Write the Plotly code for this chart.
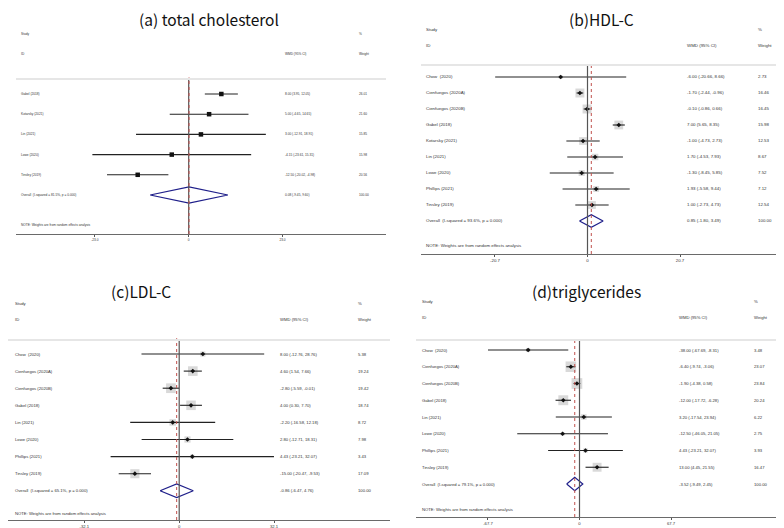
import plotly.graph_objects as go

W, H = 784, 528

# ---------------- data ----------------
# (a) total cholesterol
a_studies = ["Gabel (2018)", "Kotarsky (2021)", "Lin (2021)", "Lowe (2020)", "Tinsley (2019)"]
a_wmd = [8.00, 5.00, 3.00, -4.15, -12.50]
a_lo = [3.95, -4.65, -12.91, -23.61, -20.02]
a_hi = [12.05, 14.65, 18.91, 15.31, -4.98]
a_weight = [26.01, 21.60, 15.85, 15.98, 20.56]
a_overall = [0.08, -9.45, 9.60]
a_overall_label = "Overall  (I-squared = 81.5%, p = 0.000)"
a_ticks = [-23.0, 0, 23.0]
a_ticktext = ["-23.0", "0", "23.0"]

# (b) HDL-C
b_studies = ["Chow  (2020)", "Cienfuegos (2020A)", "Cienfuegos (2020B)", "Gabel (2018)",
             "Kotarsky (2021)", "Lin (2021)", "Lowe (2020)", "Phillips (2021)", "Tinsley (2019)"]
b_wmd = [-6.00, -1.70, -0.10, 7.00, -1.00, 1.70, -1.30, 1.93, 1.00]
b_lo = [-20.66, -2.44, -0.86, 5.65, -4.73, -4.53, -8.45, -5.58, -2.73]
b_hi = [8.66, -0.96, 0.66, 8.35, 2.73, 7.93, 5.85, 9.44, 4.73]
b_weight = [2.73, 16.46, 16.45, 15.98, 12.53, 8.67, 7.52, 7.12, 12.54]
b_overall = [0.85, -1.80, 3.49]
b_overall_label = "Overall  (I-squared = 93.6%, p = 0.000)"
b_ticks = [-20.7, 0, 20.7]
b_ticktext = ["-20.7", "0", "20.7"]

# (c) LDL-C
c_studies = ["Chow  (2020)", "Cienfuegos (2020A)", "Cienfuegos (2020B)", "Gabel (2018)",
             "Lin (2021)", "Lowe (2020)", "Phillips (2021)", "Tinsley (2019)"]
c_wmd = [8.00, 4.60, -2.80, 4.00, -2.20, 2.80, 4.43, -15.00]
c_lo = [-12.76, 1.54, -5.59, 0.30, -16.58, -12.71, -23.21, -20.47]
c_hi = [28.76, 7.66, -0.01, 7.70, 12.18, 18.31, 32.07, -9.53]
c_weight = [5.38, 19.24, 19.42, 18.74, 8.72, 7.98, 3.43, 17.09]
c_overall = [-0.86, -6.47, 4.76]
c_overall_label = "Overall  (I-squared = 65.1%, p = 0.000)"
c_ticks = [-32.1, 0, 32.1]
c_ticktext = ["-32.1", "0", "32.1"]

# (d) triglycerides
d_studies = ["Chow  (2020)", "Cienfuegos (2020A)", "Cienfuegos (2020B)", "Gabel (2018)",
             "Lin (2021)", "Lowe (2020)", "Phillips (2021)", "Tinsley (2019)"]
d_wmd = [-38.00, -6.40, -1.90, -12.00, 3.20, -12.50, 4.43, 13.00]
d_lo = [-67.69, -9.74, -4.38, -17.72, -17.54, -46.05, -23.21, 4.45]
d_hi = [-8.31, -3.06, 0.58, -6.28, 23.94, 21.05, 32.07, 21.55]
d_weight = [3.48, 23.07, 23.84, 20.24, 6.22, 2.75, 3.93, 16.47]
d_overall = [-3.52, -9.49, 2.45]
d_overall_label = "Overall  (I-squared = 79.1%, p = 0.000)"
d_ticks = [-67.7, 0, 67.7]
d_ticktext = ["-67.7", "0", "67.7"]

# ---------------- layout config (pixels) ----------------
panels = [
    dict(title="(a) total cholesterol", title_xy=(201, 11), studies=a_studies, wmd=a_wmd, lo=a_lo, hi=a_hi,
         weight=a_weight, overall=a_overall, overall_label=a_overall_label, ticks=a_ticks, ticktext=a_ticktext,
         xdom=(8, 378), zero=180.7, scale=4.08, row0=86, step=20.2, top=71, bottom=226,
         study_y=26, id_y=46, note_y=217, label_x=11, wmd_x=275, wt_x=349, fs=3.2, boxes=False),
    dict(title="(b)HDL-C", title_xy=(593, 11), studies=b_studies, wmd=b_wmd, lo=b_lo, hi=b_hi,
         weight=b_weight, overall=b_overall, overall_label=b_overall_label, ticks=b_ticks, ticktext=b_ticktext,
         xdom=(413, 784), zero=579.5, scale=4.469, row0=69, step=16, top=57, bottom=246,
         study_y=21, id_y=37, note_y=238, label_x=416, wmd_x=677, wt_x=748, fs=4.4, boxes=True),
    dict(title="(c)LDL-C", title_xy=(133, 283), studies=c_studies, wmd=c_wmd, lo=c_lo, hi=c_hi,
         weight=c_weight, overall=c_overall, overall_label=c_overall_label, ticks=c_ticks, ticktext=c_ticktext,
         xdom=(0, 382), zero=171.2, scale=2.955, row0=346, step=17.1, top=332, bottom=512,
         study_y=295, id_y=311, note_y=505, label_x=5, wmd_x=270, wt_x=348, fs=4.2, boxes=True),
    dict(title="(d)triglycerides", title_xy=(578, 283), studies=d_studies, wmd=d_wmd, lo=d_lo, hi=d_hi,
         weight=d_weight, overall=d_overall, overall_label=d_overall_label, ticks=d_ticks, ticktext=d_ticktext,
         xdom=(408, 777), zero=571.5, scale=1.352, row0=342, step=16.75, top=332, bottom=509,
         study_y=293, id_y=309, note_y=501, label_x=412, wmd_x=669, wt_x=744, fs=4.2, boxes=True),
]

TXT = "#333333"
FONT = "Liberation Sans, Arial, sans-serif"
fig = go.Figure()
annotations = []
shapes = []
layout_axes = {}


def py(p):
    return 1 - p / H


def px(p):
    return p / W


for i, P in enumerate(panels):
    k = "" if i == 0 else str(i + 1)
    xa, ya = "x" + k, "y" + k
    n = len(P["studies"])
    rows = list(range(n))
    x0, x1 = P["xdom"]
    rng = [(x0 - P["zero"]) / P["scale"], (x1 - P["zero"]) / P["scale"]]
    yr = [(P["bottom"] - P["row0"]) / P["step"], (P["top"] - P["row0"]) / P["step"]]
    fs = P["fs"]

    layout_axes["xaxis" + k] = dict(
        domain=[px(x0), px(x1)], range=rng, anchor=ya, showline=True, linecolor="#6a6a6a", linewidth=1.4,
        ticks="outside", ticklen=2, tickcolor="#555", tickwidth=1, tickvals=P["ticks"], ticktext=P["ticktext"],
        tickfont=dict(size=fs, color=TXT, family=FONT), showgrid=False, zeroline=False, fixedrange=True)
    layout_axes["yaxis" + k] = dict(
        domain=[py(P["bottom"]), py(P["top"])], range=yr, anchor=xa, visible=False, fixedrange=True)

    # vertical reference lines
    shapes.append(dict(type="line", xref=xa, yref=ya + " domain", x0=0, x1=0, y0=0, y1=1,
                       line=dict(color="#555", width=1.2)))
    shapes.append(dict(type="line", xref=xa, yref=ya + " domain", x0=P["overall"][0], x1=P["overall"][0],
                       y0=0, y1=1.01, line=dict(color="#c0504d", width=1, dash="dot")))
    # header separator line
    shapes.append(dict(type="line", xref="paper", yref="paper", x0=px(x0), x1=px(x1),
                       y0=py(P["top"]), y1=py(P["top"]), line=dict(color="#e6e6e6", width=2)))

    # weight boxes
    if P["boxes"]:
        fig.add_trace(go.Scatter(
            x=P["wmd"], y=rows, xaxis=xa, yaxis=ya, mode="markers", hoverinfo="skip",
            marker=dict(symbol="square", size=[2.2 * w ** 0.5 for w in P["weight"]], color="#c9c9c9",
                        line=dict(width=0))))
        center = dict(symbol="diamond", size=3.6, color="#111")
    else:
        center = dict(symbol="square", size=4.5, color="#111")
    # point estimates with CIs
    fig.add_trace(go.Scatter(
        x=P["wmd"], y=rows, xaxis=xa, yaxis=ya, mode="markers", hoverinfo="skip", marker=center,
        error_x=dict(type="data", symmetric=False,
                     array=[h - e for h, e in zip(P["hi"], P["wmd"])],
                     arrayminus=[e - l for e, l in zip(P["wmd"], P["lo"])],
                     width=0, thickness=1.1, color="#222")))
    # overall diamond
    oe, ol, oh = P["overall"]
    fig.add_trace(go.Scatter(
        x=[ol, oe, oh, oe, ol], y=[n, n - 0.4, n, n + 0.4, n], xaxis=xa, yaxis=ya, mode="lines",
        hoverinfo="skip", line=dict(color="#1f1f8a", width=1.2)))

    # text columns
    labels = P["studies"] + [P["overall_label"]]
    ests = P["wmd"] + [oe]
    los = P["lo"] + [ol]
    his = P["hi"] + [oh]
    wts = P["weight"] + [100.00]
    for r, (lab, e, l, h, w) in enumerate(zip(labels, ests, los, his, wts)):
        for xx, t in ((P["label_x"], lab), (P["wmd_x"], f"{e:.2f} ({l:.2f}, {h:.2f})"), (P["wt_x"], f"{w:.2f}")):
            annotations.append(dict(x=px(xx), xref="paper", y=r, yref=ya, text=t, showarrow=False,
                                    xanchor="left", yanchor="middle", font=dict(size=fs, color=TXT, family=FONT)))
    # headers
    for xx, yy, t in ((P["label_x"], P["study_y"], "Study"), (P["label_x"], P["id_y"], "ID"),
                      (P["wt_x"], P["study_y"], "%"), (P["wmd_x"], P["id_y"], "WMD (95% CI)"),
                      (P["wt_x"], P["id_y"], "Weight"),
                      (P["label_x"], P["note_y"], "NOTE: Weights are from random effects analysis")):
        annotations.append(dict(x=px(xx), xref="paper", y=py(yy), yref="paper", text=t, showarrow=False,
                                xanchor="left", yanchor="middle", font=dict(size=fs, color=TXT, family=FONT)))
    # panel title
    tx, ty = P["title_xy"]
    annotations.append(dict(x=px(tx), xref="paper", y=py(ty), yref="paper", text=P["title"], showarrow=False,
                            xanchor="center", yanchor="middle",
                            font=dict(size=15.5, color="#111", family="Noto Sans CJK SC")))

fig.update_layout(
    width=W, height=H, margin=dict(l=0, r=0, t=0, b=0), paper_bgcolor="white", plot_bgcolor="white",
    showlegend=False, annotations=annotations, shapes=shapes, **layout_axes)

fig.write_html("out.html")
